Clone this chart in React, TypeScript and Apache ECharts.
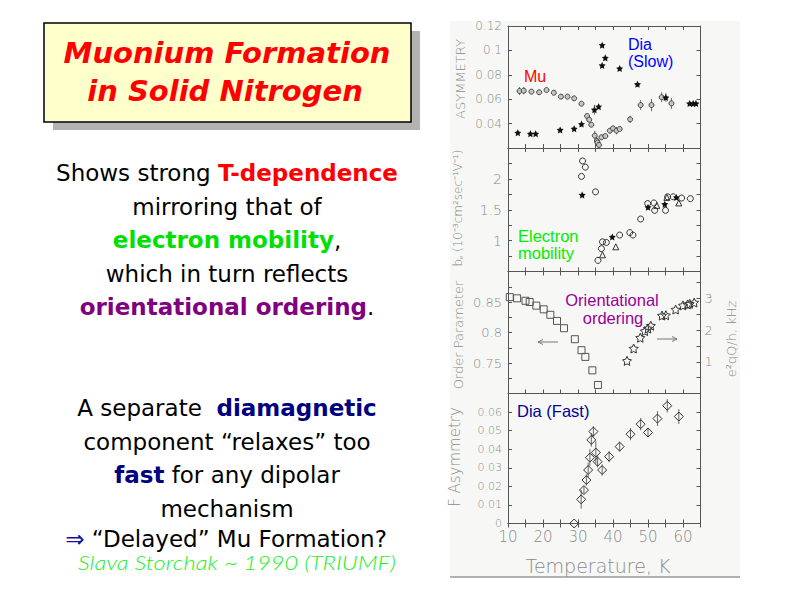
import React, { useEffect, useRef } from 'react';
import * as echarts from 'echarts';

// ---- Panel 1: Asymmetry (Mu = circles, Dia slow = stars)
const muT = [13.3, 14.5, 16.7, 18.9, 21.0, 23.1, 25.1, 27.0, 28.9, 31.0, 32.6, 33.2, 33.8, 34.8, 35.4, 35.6, 36.0, 36.7, 37.8, 39.1, 40.0, 41.0, 41.9, 44.9, 47.9, 51.0, 53.9, 56.7];
const muA = [0.0667, 0.067, 0.0662, 0.0657, 0.0675, 0.0653, 0.0621, 0.0621, 0.0607, 0.0563, 0.0462, 0.0432, 0.0391, 0.0301, 0.0257, 0.0244, 0.0225, 0.0288, 0.0298, 0.0342, 0.0361, 0.0342, 0.0356, 0.0435, 0.0552, 0.0552, 0.0616, 0.0566];
const muErr = [0.0033, 0.003, 0.002, 0.001, 0.001, 0.001, 0.001, 0.001, 0.0015, 0.0015, 0.0015, 0.0015, 0.0015, 0.004, 0.003, 0.003, 0.002, 0.002, 0.0015, 0.002, 0.002, 0.003, 0.002, 0.003, 0.004, 0.005, 0.004, 0.0045];
const diaSlowT = [12.8, 16.4, 17.9, 24.9, 28.9, 31.0, 34.7, 35.9, 36.9, 36.9, 37.8, 41.9, 47.0, 55.1, 61.9, 62.9, 63.7];
const diaSlowA = [0.0325, 0.0317, 0.0317, 0.0348, 0.0358, 0.0396, 0.0514, 0.0539, 0.0877, 0.1043, 0.0939, 0.0852, 0.0722, 0.0614, 0.0565, 0.0565, 0.0565];
const diaSlowErr = [0, 0, 0, 0, 0, 0, 0.004, 0.002, 0.001, 0.001, 0.001, 0.001, 0.002, 0.0035, 0.001, 0.001, 0.001];

// ---- Panel 2: Electron mobility
const mobCircT = [31.3, 32.1, 31.0, 35.0, 35.7, 36.7, 37.0, 38.1, 41.9, 44.8, 45.7, 47.9, 49.9, 51.7, 51.9, 55.0, 55.6, 57.2, 59.6, 62.1];
const mobCircV = [2.29, 2.19, 2.04, 1.79, 0.68, 0.87, 0.98, 0.97, 1.09, 1.13, 1.09, 1.35, 1.6, 1.61, 1.49, 1.49, 1.71, 1.71, 1.69, 1.68];
const mobStarT = [31.2, 39.8, 50.0, 54.8, 58.1];
const mobStarV = [1.74, 1.06, 1.54, 1.59, 1.7];
const mobTriT = [37.0, 40.8, 52.5, 55.4, 58.8];
const mobTriV = [0.77, 0.9, 1.57, 1.7, 1.61];

// ---- Panel 3: Order parameter (left) and e2qQ/h (right)
const opT = [10.5, 12.6, 15.0, 16.2, 18.1, 20.2, 22.1, 24.0, 26.0, 29.1, 31.0, 32.1, 34.1, 35.7];
const opV = [0.858, 0.856, 0.852, 0.85, 0.844, 0.838, 0.829, 0.819, 0.807, 0.789, 0.771, 0.76, 0.738, 0.714];
const eqT = [44.0, 45.9, 47.8, 49.1, 50.0, 50.8, 54.0, 55.1, 57.9, 60.0, 61.3, 61.9, 63.2];
const eqV = [1.03, 1.42, 1.76, 1.97, 2.05, 2.14, 2.46, 2.47, 2.65, 2.78, 2.81, 2.83, 2.87];

// ---- Panel 4: Dia (Fast) asymmetry
const dfT = [28.9, 30.9, 31.7, 32.4, 32.9, 33.4, 33.8, 34.4, 35.1, 35.6, 36.9, 38.9, 41.9, 45.0, 47.9, 50.0, 52.7, 55.5, 58.8];
const dfA = [0.0, 0.013, 0.018, 0.0234, 0.0288, 0.0355, 0.045, 0.0495, 0.0382, 0.0333, 0.0288, 0.036, 0.0414, 0.0481, 0.0535, 0.049, 0.0565, 0.0634, 0.0576];
const dfErr = [0, 0.005, 0.002, 0.003, 0.004, 0.0045, 0.0036, 0.003, 0.006, 0.003, 0.003, 0.003, 0.0027, 0.0033, 0.0033, 0.0025, 0.004, 0.0036, 0.004];

const xTickLabels = [10, 20, 30, 40, 50, 60];
const p1Labels = [0.04, 0.06, 0.08, 0.1, 0.12];
const p2Labels = [1, 1.5, 2];
const p3Labels = [0.75, 0.8, 0.85];
const p3RightLabels = [1, 2, 3];
const p4Labels = [0, 0.01, 0.02, 0.03, 0.04, 0.05, 0.06];

const STAR = 'path://M0,-10L2.94,-4.05L9.51,-3.09L4.76,1.55L5.88,8.09L0,5L-5.88,8.09L-4.76,1.55L-9.51,-3.09L-2.94,-4.05Z';
const AX = '#555';
const LBL = '#8a8a8a';
const THIN = 'DejaVu Sans';

const pick = (list: number[]) => (v: number) => {
  const hit = list.find((l) => Math.abs(l - v) < 1e-6);
  return hit === undefined ? '' : String(hit);
};

const zip = (a: number[], b: number[]) => a.map((x, i) => [x, b[i]]);
const errData = (t: number[], v: number[], e: number[]) =>
  t.map((x, i) => [x, v[i] - e[i], v[i] + e[i]]).filter((_, i) => e[i] > 0);

const grids = [
  { left: 508, top: 26, width: 192.5, height: 122 },
  { left: 508, top: 148, width: 192.5, height: 123.5 },
  { left: 508, top: 271.5, width: 192.5, height: 122 },
  { left: 508, top: 393.5, width: 192.5, height: 130 },
];

function xAxisFor(gi: number, pos: 'bottom' | 'top', labels: boolean) {
  return {
    type: 'value', gridIndex: gi, position: pos, min: 10, max: 65, interval: 5,
    axisLine: { show: true, lineStyle: { color: AX, width: 1 } },
    axisTick: { show: true, inside: true, length: 4, lineStyle: { color: AX } },
    splitLine: { show: false },
    axisLabel: labels
      ? { show: true, formatter: pick(xTickLabels), color: LBL, fontSize: 15, fontFamily: THIN, fontWeight: 200, margin: 6 }
      : { show: false },
  };
}

function yAxisFor(gi: number, pos: 'left' | 'right', min: number, max: number, interval: number, labels: number[] | null, fs = 12) {
  return {
    type: 'value', gridIndex: gi, position: pos, min, max, interval,
    axisLine: { show: true, lineStyle: { color: AX, width: 1 } },
    axisTick: { show: true, inside: true, length: 4, lineStyle: { color: AX } },
    splitLine: { show: false },
    axisLabel: labels
      ? { show: true, formatter: pick(labels), color: LBL, fontSize: fs, fontFamily: THIN, fontWeight: 200, margin: pos === 'left' ? 6 : 4, showMinLabel: true, showMaxLabel: true }
      : { show: false },
  };
}

function errSeries(xi: number, yi: number, data: number[][]) {
  return {
    type: 'custom', xAxisIndex: xi, yAxisIndex: yi, z: 1, clip: false,
    encode: { x: 0, y: [1, 2] },
    data,
    renderItem: (_p: any, api: any) => {
      const a = api.coord([api.value(0), api.value(1)]);
      const b = api.coord([api.value(0), api.value(2)]);
      return { type: 'line', shape: { x1: a[0], y1: a[1], x2: b[0], y2: b[1] }, style: { stroke: '#666', lineWidth: 1 } };
    },
  };
}

function scat(xi: number, yi: number, data: number[][], symbol: string, size: number, fill: string, stroke: string, bw = 1) {
  return {
    type: 'scatter', xAxisIndex: xi, yAxisIndex: yi, data, symbol, symbolSize: size, clip: false, z: 3,
    itemStyle: { color: fill, borderColor: stroke, borderWidth: bw, opacity: 1 },
  };
}

const txt = (x: number, y: number, text: string, fill: string, fontSize: number, extra: any = {}) => ({
  type: 'text', x, y, z: 50,
  style: { text, fill, fontSize, fontFamily: 'Liberation Sans, Arial, sans-serif', align: 'left', verticalAlign: 'middle', ...extra },
});

const BODY = 23;
const rich = {
  n: { fill: '#000', color: '#000', fontSize: BODY, fontFamily: 'DejaVu Sans' },
  r: { fill: '#ff0000', color: '#ff0000', fontSize: BODY, fontFamily: 'DejaVu Sans', fontWeight: 'bold' },
  g: { fill: '#00e000', color: '#00e000', fontSize: BODY, fontFamily: 'DejaVu Sans', fontWeight: 'bold' },
  p: { fill: '#800080', color: '#800080', fontSize: BODY, fontFamily: 'DejaVu Sans', fontWeight: 'bold' },
  b: { fill: '#000080', color: '#000080', fontSize: BODY, fontFamily: 'DejaVu Sans', fontWeight: 'bold' },
  a: { fill: '#1010a0', color: '#1010a0', fontSize: BODY, fontFamily: 'DejaVu Sans' },
};
const bodyLine = (y: number, text: string, x = 227) => ({
  type: 'text', x, y, z: 50,
  style: { text, rich, fontSize: BODY, fontFamily: 'DejaVu Sans', fill: '#000', align: 'center', verticalAlign: 'middle' },
});

const rotText = (x: number, y: number, text: string, fontSize: number) => ({
  type: 'text', x, y, rotation: Math.PI / 2, z: 50,
  style: { text, fill: LBL, fontSize, fontFamily: THIN, fontWeight: 200, align: 'center', verticalAlign: 'middle' },
});

export default function App() {
  const ref = useRef<HTMLDivElement>(null);
  useEffect(() => {
    if (!ref.current) return;
    const chart = echarts.init(ref.current, null, { renderer: 'svg' });
    const option: any = {
      animation: false,
      backgroundColor: '#ffffff',
      grid: grids.map((g) => ({ ...g, show: false })),
      xAxis: [
        xAxisFor(0, 'bottom', false), xAxisFor(1, 'bottom', false), xAxisFor(2, 'bottom', false), xAxisFor(3, 'bottom', true),
        xAxisFor(0, 'top', false), xAxisFor(1, 'top', false), xAxisFor(2, 'top', false), xAxisFor(3, 'top', false),
      ],
      yAxis: [
        yAxisFor(0, 'left', 0.02, 0.12, 0.02, p1Labels, 12),
        yAxisFor(1, 'left', 0.5, 2.5, 0.25, p2Labels, 14),
        yAxisFor(2, 'left', 0.7, 0.9, 0.025, p3Labels, 13),
        yAxisFor(3, 'left', 0, 0.07, 0.01, p4Labels, 11),
        yAxisFor(0, 'right', 0.02, 0.12, 0.02, null),
        yAxisFor(1, 'right', 0.5, 2.5, 0.25, null),
        yAxisFor(2, 'right', 0, 3.85, 0.5, p3RightLabels, 13),
        yAxisFor(3, 'right', 0, 0.07, 0.01, null),
      ],
      series: [
        errSeries(0, 0, errData(muT, muA, muErr)),
        errSeries(0, 0, errData(diaSlowT, diaSlowA, diaSlowErr)),
        scat(0, 0, zip(muT, muA), 'circle', 5, '#c4c4c4', '#444'),
        scat(0, 0, zip(diaSlowT, diaSlowA), STAR, 7, '#111', '#111', 0),
        scat(1, 1, zip(mobCircT, mobCircV), 'circle', 6, 'transparent', '#333'),
        scat(1, 1, zip(mobTriT, mobTriV), 'triangle', 6, 'transparent', '#333'),
        scat(1, 1, zip(mobStarT, mobStarV), STAR, 7, '#111', '#111', 0),
        scat(2, 2, zip(opT, opV), 'rect', 7, 'transparent', '#555'),
        scat(2, 6, zip(eqT, eqV), STAR, 9, 'transparent', '#333'),
        errSeries(3, 3, errData(dfT, dfA, dfErr)),
        scat(3, 3, zip(dfT, dfA), 'diamond', 9, 'transparent', '#333'),
      ],
      graphic: [
        // chart panel background
        { type: 'rect', z: -10, shape: { x: 450, y: 21, width: 290, height: 556 }, style: { fill: '#f7f8f5' } },
        { type: 'line', z: -9, shape: { x1: 450, y1: 577, x2: 740, y2: 577 }, style: { stroke: '#999', lineWidth: 1.5 } },
        // title box
        { type: 'rect', z: 10, shape: { x: 53, y: 31, width: 367, height: 99 }, style: { fill: '#b3b3b3' } },
        { type: 'rect', z: 11, shape: { x: 44, y: 23, width: 367, height: 99 }, style: { fill: '#ffffcc', stroke: '#000', lineWidth: 1.5 } },
        { type: 'text', x: 227, y: 53, z: 12, style: { text: 'Muonium Formation', fill: '#ff0000', fontSize: 29, fontFamily: 'DejaVu Sans', fontWeight: 'bold', fontStyle: 'italic', align: 'center', verticalAlign: 'middle' } },
        { type: 'text', x: 225, y: 91, z: 12, style: { text: 'in Solid Nitrogen', fill: '#ff0000', fontSize: 29, fontFamily: 'DejaVu Sans', fontWeight: 'bold', fontStyle: 'italic', align: 'center', verticalAlign: 'middle' } },
        // body text
        bodyLine(173, '{n|Shows strong }{r|T-dependence}'),
        bodyLine(207, '{n|mirroring that of}'),
        bodyLine(240, '{g|electron mobility}{n|,}'),
        bodyLine(274, '{n|which in turn reflects}'),
        bodyLine(307, '{p|orientational ordering}{n|.}'),
        bodyLine(408, '{n|A separate  }{b|diamagnetic}'),
        bodyLine(442, '{n|component “relaxes” too}'),
        bodyLine(475, '{b|fast}{n| for any dipolar}'),
        bodyLine(509, '{n|mechanism}'),
        bodyLine(539, '{a|⇒ }{n|“Delayed” Mu Formation?}', 226),
        { type: 'text', x: 237, y: 562, scaleX: 1.18, z: 52, style: { text: 'Slava Storchak ~ 1990 (TRIUMF)', fill: '#1aee1a', fontSize: 20, fontFamily: 'Lato', fontWeight: 300, fontStyle: 'italic', align: 'center', verticalAlign: 'middle' } },
        // in-chart annotations
        txt(524, 76, 'Mu', '#ff0000', 16),
        txt(628, 44, 'Dia', '#0000ff', 16),
        txt(628, 61, '(Slow)', '#0000ff', 16),
        txt(518, 236, 'Electron', '#00ee00', 16.5),
        txt(518, 253, 'mobility', '#00ee00', 16.5),
        txt(612, 300, 'Orientational', '#990099', 16.5, { align: 'center' }),
        txt(613, 318, 'ordering', '#990099', 16.5, { align: 'center' }),
        txt(517, 411, 'Dia (Fast)', '#000099', 16.5),
        // arrows
        { type: 'line', z: 20, shape: { x1: 538, y1: 342, x2: 558, y2: 342 }, style: { stroke: '#777', lineWidth: 1 } },
        { type: 'polyline', z: 20, shape: { points: [[543, 339.5], [538, 342], [543, 344.5]] }, style: { stroke: '#777', lineWidth: 1, fill: 'none' } },
        { type: 'line', z: 20, shape: { x1: 657, y1: 339, x2: 677, y2: 339 }, style: { stroke: '#777', lineWidth: 1 } },
        { type: 'polyline', z: 20, shape: { points: [[672, 336.5], [677, 339], [672, 341.5]] }, style: { stroke: '#777', lineWidth: 1, fill: 'none' } },
        // axis titles
        rotText(460, 79, 'ASYMMETRY', 13),
        rotText(458, 208, 'bₑ (10⁻³cm²sec⁻¹V⁻¹)', 12),
        rotText(458, 335, 'Order Parameter', 13),
        rotText(455, 457, 'F Asymmetry', 15),
        rotText(731, 339, 'e²qQ/h, kHz', 13),
        { type: 'text', x: 598, y: 566, z: 50, style: { text: 'Temperature, K', fill: LBL, fontSize: 19, fontFamily: THIN, fontWeight: 200, align: 'center', verticalAlign: 'middle' } },
      ],
    };
    chart.setOption(option);
    return () => chart.dispose();
  }, []);
  return <div ref={ref} style={{ position: 'fixed', left: 0, top: 0, width: 800, height: 600 }} />;
}
